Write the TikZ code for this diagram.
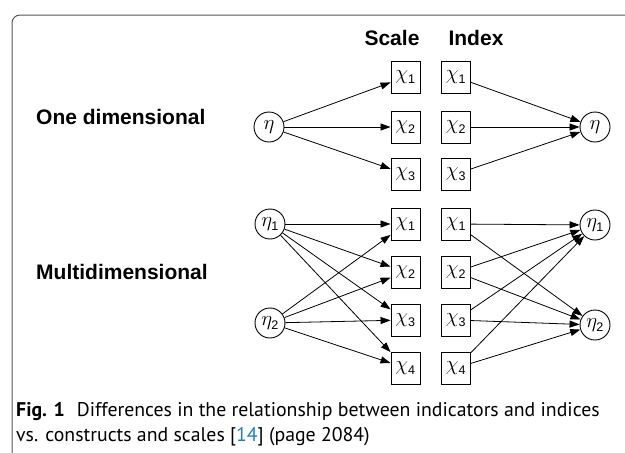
\documentclass[tikz,border=0pt]{standalone}
\usepackage[no-math]{fontspec}
\setmainfont{PT Sans}
\newfontfamily\labelfont{Liberation Sans}
\usetikzlibrary{arrows.meta}
\definecolor{linkblue}{HTML}{1F7FC4}
\definecolor{framegray}{HTML}{555555}
% sans-serif subscript digit for the variable names
\newcommand{\subdigit}[1]{_{\raisebox{-1.5pt}{\labelfont\fontsize{12.5}{13}\selectfont #1}}}

\begin{document}
\begin{tikzpicture}[x=1pt,y=-1pt,
  ind/.style={draw, line width=0.9pt, minimum width=29pt, minimum height=32pt,
    inner sep=0pt, font=\fontsize{20}{20}\selectfont},
  lat/.style={draw, circle, line width=0.9pt, minimum size=30pt, inner sep=0pt,
    font=\fontsize{20}{20}\selectfont},
  arr/.style={-{Triangle[length=10pt,width=7pt]}, line width=0.8pt},
  heading/.style={font=\labelfont\bfseries\fontsize{21}{24}\selectfont, inner sep=0pt},
  caption/.style={font=\fontsize{19.8}{24}\selectfont, inner sep=0pt, anchor=base west}
]
\useasboundingbox (0,0) rectangle (625,453);

% frame
\draw[framegray, line width=1pt, rounded corners=8pt] (12,453) -- (12,15) -- (626,15);

% headings
\node[heading] (hscale) at (392,38) {Scale};
\node[heading] (hindex) at (476,38) {Index};
\node[heading, anchor=west] (hone) at (36,117) {One dimensional};
\node[heading, anchor=west] (hmulti) at (36,272) {Multidimensional};

% one dimensional
\node[lat] (e) at (269,127) {$\eta$};
\node[lat] (f) at (595,127) {$\eta$};
\foreach \i/\y in {1/77,2/127,3/174}{
  \node[ind] (s\i) at (405.5,\y) {$\chi\subdigit{\i}$};
  \node[ind] (x\i) at (456,\y) {$\chi\subdigit{\i}$};
  \draw[arr] (e) -- (s\i);
  \draw[arr] (x\i) -- (f);
}

% multidimensional
\node[lat] (ea) at (270,224) {$\eta\subdigit{1}$};
\node[lat] (eb) at (270,323) {$\eta\subdigit{2}$};
\node[lat] (fa) at (595,225) {$\eta\subdigit{1}$};
\node[lat] (fb) at (595,325) {$\eta\subdigit{2}$};
\foreach \i/\y in {1/224,2/272,3/320,4/368}{
  \node[ind] (ms\i) at (405.5,\y) {$\chi\subdigit{\i}$};
  \node[ind] (mx\i) at (456,\y) {$\chi\subdigit{\i}$};
  \draw[arr] (ea) -- (ms\i);
  \draw[arr] (eb) -- (ms\i);
  \draw[arr] (mx\i) -- (fa);
  \draw[arr] (mx\i) -- (fb);
}

% caption
\node[caption] (cap1) at (16,416) {\textbf{Fig. 1}\hspace{0.6em}Differences in the relationship between indicators and indices};
\node[caption] (cap2) at (16,441) {vs. constructs and scales [\textcolor{linkblue}{14}] (page 2084)};
\end{tikzpicture}
\end{document}
